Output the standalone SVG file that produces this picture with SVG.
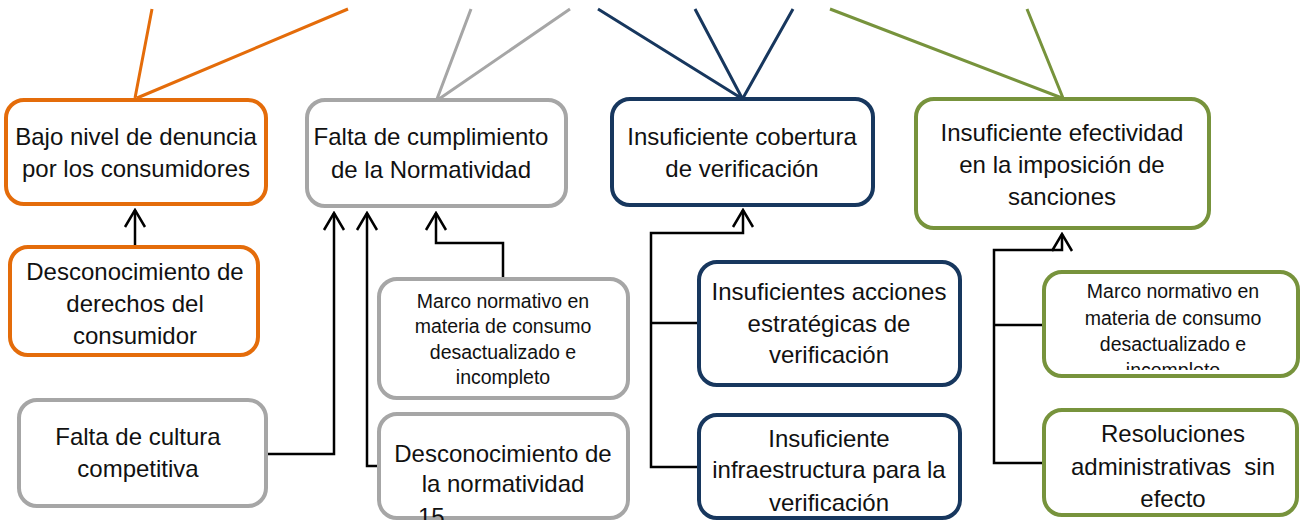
<svg xmlns="http://www.w3.org/2000/svg" width="1300" height="520" viewBox="0 0 1300 520">
<style>
.box{fill:#fff;stroke-width:4}
.or{stroke:#E46C0A}
.gr{stroke:#A6A6A6}
.nv{stroke:#17375E}
.gn{stroke:#77933C}
.top{fill:none;stroke-width:3}
.t{font-family:"Liberation Sans",Arial,sans-serif;font-size:24px;fill:#111;text-anchor:middle}
.s{font-family:"Liberation Sans",Arial,sans-serif;font-size:19.5px;fill:#111;text-anchor:middle}
.c{fill:none;stroke:#000;stroke-width:2.5}
</style>
<defs>
<marker id="ah" markerUnits="userSpaceOnUse" viewBox="-20 -12 22 24" refX="0" refY="0" markerWidth="22" markerHeight="24" orient="auto">
<path d="M-17,-10 L0,0 L-17,10" fill="none" stroke="#000" stroke-width="2.5"/>
</marker>
<clipPath id="clipG"><rect x="1040" y="270" width="260" height="100"/></clipPath>
</defs>
<rect width="1300" height="520" fill="#fff"/>
<g id="top-lines">
<path class="top or" d="M152,9 L135,98 M348,9 L137,98"/>
<path class="top gr" d="M471,9 L437,99 M570,9 L439,99"/>
<path class="top nv" d="M598,9 L741,98 M695,9 L742,98 M793,9 L743,98"/>
<path class="top gn" d="M830,9 L1062,98 M1027,9 L1063,98"/>
</g>
<g id="connectors">
<path class="c" d="M135,247 V210" marker-end="url(#ah)"/>
<path class="c" d="M267,454 H334 V213" marker-end="url(#ah)"/>
<path class="c" d="M379,466 H367 V213" marker-end="url(#ah)"/>
<path class="c" d="M503,279 V243 H436 V213" marker-end="url(#ah)"/>
<path class="c" d="M699,467 H651 V233 H743 V210" marker-end="url(#ah)"/>
<path class="c" d="M699,323 H651"/>
<path class="c" d="M1044,463 H994 V250 H1062 V234" marker-end="url(#ah)"/>
<path class="c" d="M1044,325 H994"/>
</g>
<g id="n1">
<rect class="box or" x="6" y="100" width="260" height="104" rx="18"/>
<text class="t" x="136" y="145">Bajo nivel de denuncia</text>
<text class="t" x="136" y="177">por los consumidores</text>
</g>
<g id="n2">
<rect class="box gr" x="307" y="100" width="259" height="106" rx="18"/>
<text class="t" x="431" y="145">Falta de cumplimiento</text>
<text class="t" x="431" y="178">de la Normatividad</text>
</g>
<g id="n3">
<rect class="box or" x="10" y="247" width="248" height="108" rx="18"/>
<text class="t" x="135" y="280">Desconocimiento de</text>
<text class="t" x="135" y="312">derechos del</text>
<text class="t" x="135" y="344">consumidor</text>
</g>
<g id="n4">
<rect class="box gr" x="379" y="279" width="249" height="119" rx="18"/>
<text class="s" x="503" y="307.5">Marco normativo en</text>
<text class="s" x="503" y="333">materia de consumo</text>
<text class="s" x="503" y="358.5">desactualizado e</text>
<text class="s" x="503" y="384">incompleto</text>
</g>
<g id="n5">
<rect class="box gr" x="379" y="414" width="249" height="104" rx="18"/>
<text class="t" x="503" y="462">Desconocimiento de</text>
<text class="t" x="503" y="492">la normatividad</text>
<text class="t" x="418" y="525" style="text-anchor:start">15</text>
</g>
<g id="n6">
<rect class="box gr" x="19" y="400" width="247" height="106" rx="18"/>
<text class="t" x="138" y="445">Falta de cultura</text>
<text class="t" x="138" y="477">competitiva</text>
</g>
<g id="n7">
<rect class="box nv" x="612" y="99" width="261" height="106" rx="18"/>
<text class="t" x="742" y="145">Insuficiente cobertura</text>
<text class="t" x="742" y="177">de verificación</text>
</g>
<g id="n8">
<rect class="box nv" x="699" y="262" width="261" height="123" rx="18"/>
<text class="t" x="829" y="300">Insuficientes acciones</text>
<text class="t" x="829" y="332">estratégicas de</text>
<text class="t" x="829" y="363">verificación</text>
</g>
<g id="n9">
<rect class="box nv" x="699" y="415" width="261" height="103" rx="18"/>
<text class="t" x="829" y="447">Insuficiente</text>
<text class="t" x="829" y="478">infraestructura para la</text>
<text class="t" x="829" y="511">verificación</text>
</g>
<g id="n10">
<rect class="box gn" x="916" y="99" width="293" height="129" rx="18"/>
<text class="t" x="1062" y="141">Insuficiente efectividad</text>
<text class="t" x="1062" y="173">en la imposición de</text>
<text class="t" x="1062" y="205">sanciones</text>
</g>
<g id="n11">
<rect class="box gn" x="1044" y="272" width="254" height="104" rx="18"/>
<g clip-path="url(#clipG)">
<text class="s" x="1173" y="298">Marco normativo en</text>
<text class="s" x="1173" y="325">materia de consumo</text>
<text class="s" x="1173" y="351">desactualizado e</text>
<text class="s" x="1173" y="377">incompleto</text>
</g>
</g>
<g id="n12">
<rect class="box gn" x="1044" y="410" width="253" height="105" rx="18"/>
<text class="t" x="1173" y="442">Resoluciones</text>
<text class="t" x="1173" y="475" xml:space="preserve">administrativas  sin</text>
<text class="t" x="1173" y="507">efecto</text>
</g>
</svg>
